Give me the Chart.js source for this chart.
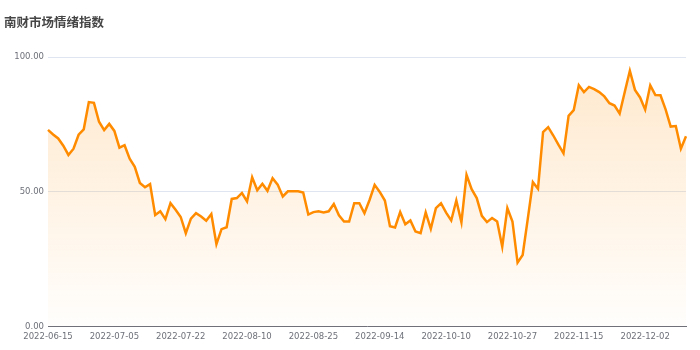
<!DOCTYPE html>
<html>
<head>
<meta charset="utf-8">
<script src="https://cdn.jsdelivr.net/npm/chart.js@4.4.0/dist/chart.umd.min.js"></script>
<style>
  html, body { margin: 0; padding: 0; background: #fff; }
  #wrap { width: 700px; height: 350px; }
</style>
</head>
<body>
<div id="wrap"><canvas id="sentiment"></canvas></div>
<script>
// chart title
const chartTitle = "南财市场情绪指数";

// trading days on the x axis
const dates = [
    "2022-06-15", "2022-06-16", "2022-06-17", "2022-06-20", "2022-06-21", "2022-06-22", "2022-06-23", "2022-06-24",
    "2022-06-27", "2022-06-28", "2022-06-29", "2022-06-30", "2022-07-01", "2022-07-05", "2022-07-06", "2022-07-07",
    "2022-07-08", "2022-07-11", "2022-07-12", "2022-07-13", "2022-07-14", "2022-07-15", "2022-07-18", "2022-07-19",
    "2022-07-20", "2022-07-21", "2022-07-22", "2022-07-25", "2022-07-26", "2022-07-27", "2022-07-28", "2022-07-29",
    "2022-08-01", "2022-08-02", "2022-08-03", "2022-08-04", "2022-08-05", "2022-08-08", "2022-08-09", "2022-08-10",
    "2022-08-11", "2022-08-12", "2022-08-13", "2022-08-15", "2022-08-16", "2022-08-17", "2022-08-18", "2022-08-19",
    "2022-08-20", "2022-08-22", "2022-08-23", "2022-08-24", "2022-08-25", "2022-08-26", "2022-08-29", "2022-08-30",
    "2022-08-31", "2022-09-01", "2022-09-02", "2022-09-05", "2022-09-06", "2022-09-07", "2022-09-08", "2022-09-09",
    "2022-09-13", "2022-09-14", "2022-09-15", "2022-09-16", "2022-09-19", "2022-09-20", "2022-09-21", "2022-09-22",
    "2022-09-23", "2022-09-26", "2022-09-27", "2022-09-28", "2022-09-29", "2022-09-30", "2022-10-10", "2022-10-11",
    "2022-10-12", "2022-10-13", "2022-10-14", "2022-10-17", "2022-10-18", "2022-10-19", "2022-10-20", "2022-10-21",
    "2022-10-24", "2022-10-25", "2022-10-26", "2022-10-27", "2022-10-28", "2022-10-31", "2022-11-01", "2022-11-02",
    "2022-11-03", "2022-11-04", "2022-11-07", "2022-11-08", "2022-11-09", "2022-11-10", "2022-11-11", "2022-11-14",
    "2022-11-15", "2022-11-16", "2022-11-17", "2022-11-18", "2022-11-21", "2022-11-22", "2022-11-23", "2022-11-24",
    "2022-11-25", "2022-11-28", "2022-11-29", "2022-11-30", "2022-12-01", "2022-12-02", "2022-12-05", "2022-12-06",
    "2022-12-07", "2022-12-08", "2022-12-09", "2022-12-12", "2022-12-13", "2022-12-14"
];

// sentiment index, one value per trading day
const values = [
    73.0, 71.3, 69.8, 67.1, 63.7, 66.0, 71.2, 73.2, 83.3, 83.0,
    76.0, 72.9, 75.2, 72.6, 66.4, 67.3, 62.3, 59.3, 53.3, 51.7,
    52.9, 41.4, 42.8, 39.9, 45.8, 43.4, 40.7, 34.7, 40.1, 42.1,
    40.9, 39.3, 41.8, 30.6, 36.2, 36.9, 47.4, 47.7, 49.6, 46.5,
    55.4, 50.6, 53.0, 50.4, 55.1, 52.7, 48.3, 50.2, 50.2, 50.2,
    49.8, 41.6, 42.5, 42.8, 42.4, 42.8, 45.5, 41.3, 39.0, 39.0,
    45.8, 45.8, 42.1, 47.0, 52.6, 50.0, 46.8, 37.3, 36.8, 42.5,
    38.0, 39.4, 35.3, 34.7, 42.4, 36.3, 44.0, 45.8, 42.3, 39.4,
    46.8, 38.7, 56.3, 51.0, 47.7, 41.1, 38.8, 40.3, 39.0, 29.7,
    44.0, 39.0, 23.8, 26.6, 40.0, 53.6, 51.2, 72.2, 74.0, 70.9,
    67.5, 64.3, 78.2, 80.3, 89.5, 87.0, 88.9, 88.1, 87.0, 85.4,
    82.9, 82.0, 79.0, 87.0, 94.9, 87.8, 85.0, 80.5, 89.5, 85.9,
    85.8, 80.6, 74.2, 74.4, 66.0, 70.6
];

// y axis tick values
const yTicks = [0, 50, 100];

// a date label is shown every 13 trading days
const labelStep = 13;

const axisFont = { family: "DejaVu Sans", size: 8.5 };

let ctx = document.getElementById("sentiment").getContext("2d");

// orange fill fading out towards the x axis
function areaFill(context) {
    const area = context.chart.chartArea;
    if (!area) return "rgba(255,140,0,0.1)";
    const g = context.chart.ctx.createLinearGradient(0, area.top, 0, area.bottom);
    g.addColorStop(0, "rgba(255,140,0,0.20)");
    g.addColorStop(1, "rgba(255,140,0,0.01)");
    return g;
}

let config = {
    type: "line",
    data: {
        labels: dates,
        datasets: [{
            label: chartTitle,
            data: values,
            borderColor: "#ff8c00",
            borderWidth: 2.5,
            backgroundColor: areaFill,
            fill: "origin",
            pointRadius: 0,
            tension: 0
        }]
    },
    options: {
        responsive: true,
        maintainAspectRatio: false,
        animation: false,
        layout: {
            padding: { left: 4, right: 14, top: 0, bottom: 3 }
        },
        plugins: {
            legend: { display: false },
            tooltip: { enabled: false },
            title: {
                display: true,
                text: chartTitle,
                align: "start",
                color: "#464646",
                font: { family: "Noto Sans CJK SC", size: 12.5, weight: "bold" },
                padding: { top: 15, bottom: 27 }
            }
        },
        scales: {
            x: {
                grid: { display: false, drawTicks: false },
                border: { display: true, color: "#6e7079" },
                ticks: {
                    autoSkip: false,
                    maxRotation: 0,
                    padding: 5,
                    color: "#6e7079",
                    font: axisFont,
                    callback: function (v, i) {
                        return i % labelStep === 0 ? dates[i] : "";
                    }
                }
            },
            y: {
                min: 0,
                max: 100,
                afterBuildTicks: function (scale) {
                    scale.ticks = yTicks.map(v => ({ value: v }));
                },
                afterFit: function (scale) {
                    scale.width = 44;
                },
                grid: { color: "#e0e6f1", drawTicks: false },
                border: { display: false },
                ticks: {
                    padding: 4,
                    color: "#6e7079",
                    font: axisFont,
                    callback: v => v.toFixed(2)
                }
            }
        }
    }
};

let chart = new Chart(ctx, config);
</script>
</body>
</html>
